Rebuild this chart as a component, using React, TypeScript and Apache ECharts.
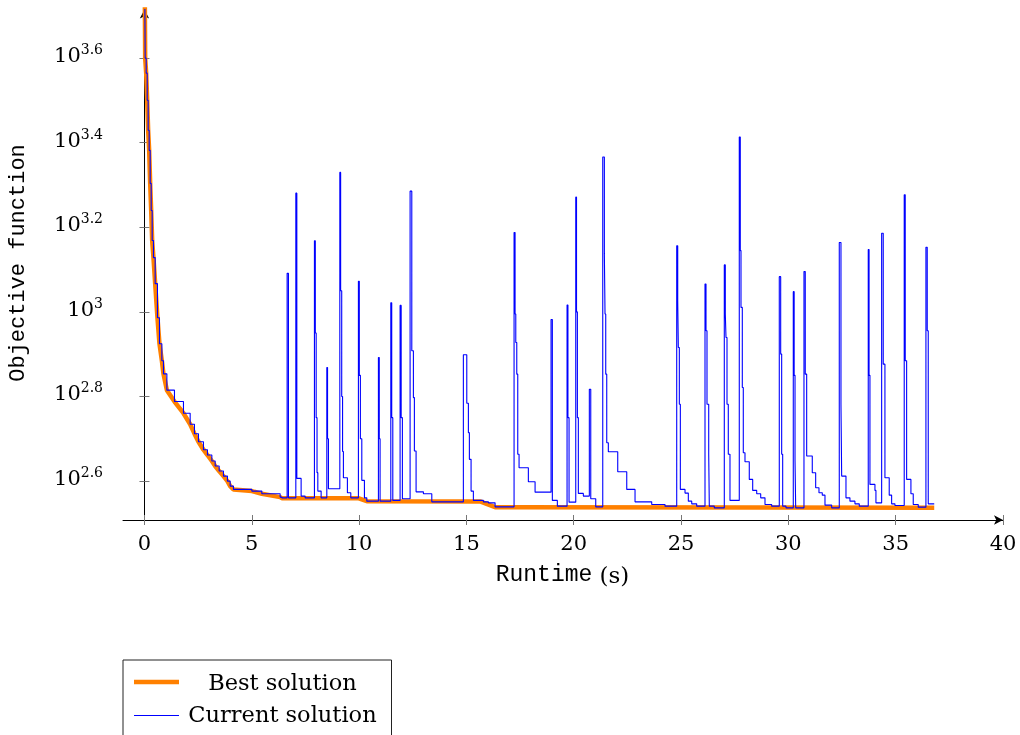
import React, { useEffect, useRef } from "react";
import * as echarts from "echarts";

// x: runtime (s), y: log10(objective function)
const bestSolution: [number, number][] = [
  [0.01, 3.8], [0.033, 3.6], [0.08, 3.5645], [0.127, 3.5005], [0.172, 3.4294], [0.219, 3.382],
  [0.266, 3.3038], [0.313, 3.2398], [0.359, 3.1687], [0.419, 3.1284], [0.499, 3.0668], [0.605, 2.9863],
  [0.699, 2.9246], [0.811, 2.8844], [0.885, 2.8536], [1.044, 2.815], [1.398, 2.788], [1.817, 2.7604],
  [2.129, 2.7344], [2.329, 2.7121], [2.516, 2.6931], [2.748, 2.6742], [2.935, 2.6616], [3.139, 2.6474],
  [3.294, 2.6355], [3.48, 2.6237], [3.68, 2.6118], [3.866, 2.6], [3.993, 2.5882], [4.146, 2.5803],
  [5.003, 2.5763], [5.469, 2.5699], [6.321, 2.5621], [6.4, 2.5597], [9.953, 2.5597], [10.359, 2.5526],
  [15.636, 2.552], [16.335, 2.5384], [36.796, 2.5367],
];

const currentSolution: [number, number][] = [
  [0.01, 3.8], [0.033, 3.6], [0.08, 3.5645], [0.127, 3.5005], [0.172, 3.4294], [0.219, 3.382],
  [0.266, 3.3038], [0.313, 3.2398], [0.359, 3.1687], [0.419, 3.1284], [0.499, 3.0668], [0.605, 2.9863],
  [0.699, 2.9246], [0.811, 2.8844], [0.885, 2.8536], [1.044, 2.815], [1.398, 2.788], [1.817, 2.7604],
  [2.129, 2.7344], [2.329, 2.7121], [2.516, 2.6931], [2.748, 2.6742], [2.935, 2.6616], [3.139, 2.6474],
  [3.294, 2.6355], [3.48, 2.6237], [3.68, 2.6118], [3.866, 2.6], [3.993, 2.5882], [4.146, 2.5803],
  [5.003, 2.5763], [5.469, 2.5699], [6.321, 2.5621], [6.4, 2.5604],
  [6.647, 3.0912], [6.708, 2.5604], [7.052, 3.2808], [7.099, 2.6064], [7.299, 2.5645], [7.485, 2.5604],
  [7.919, 3.168], [7.96, 2.95], [8.0, 2.75], [8.04, 2.62], [8.077, 2.5763], [8.231, 2.5604],
  [8.496, 2.8685], [8.53, 2.7], [8.571, 2.5818],
  [9.102, 3.3299], [9.14, 3.05], [9.19, 2.8], [9.23, 2.67], [9.269, 2.6078], [9.455, 2.5723], [9.613, 2.5604],
  [9.968, 3.0723], [10.01, 2.85], [10.06, 2.7], [10.126, 2.6017], [10.248, 2.5604], [10.359, 2.5526],
  [10.9, 2.8922], [10.94, 2.7], [10.978, 2.5526], [11.477, 3.0218], [11.52, 2.75], [11.57, 2.5543],
  [11.91, 3.0154], [11.96, 2.75], [12.017, 2.5581],
  [12.376, 3.2855], [12.455, 2.908], [12.53, 2.7974], [12.576, 2.6711], [12.655, 2.5746], [12.996, 2.5699],
  [13.387, 2.5509],
  [14.858, 2.8986], [15.017, 2.7841], [15.092, 2.7145], [15.138, 2.6514], [15.217, 2.5763], [15.324, 2.5543],
  [15.79, 2.5509], [16.023, 2.5486], [16.335, 2.5391],
  [17.22, 3.1877], [17.267, 2.995], [17.3, 2.9277], [17.346, 2.8528], [17.392, 2.6633], [17.453, 2.6315],
  [17.886, 2.5983], [18.199, 2.5739],
  [18.943, 2.9822], [19.004, 2.5543], [19.237, 2.5408], [19.689, 3.0164], [19.73, 2.75], [19.782, 2.5502],
  [20.094, 3.2713], [20.13, 3.0], [20.17, 2.75], [20.215, 2.5709], [20.448, 2.5645],
  [20.727, 2.8173], [20.793, 2.5581], [21.025, 2.5391],
  [21.352, 3.3661], [21.427, 3.1372], [21.458, 2.995], [21.491, 2.8528], [21.538, 2.6908], [21.612, 2.6694],
  [22.05, 2.622], [22.47, 2.5803], [22.856, 2.5509], [23.633, 2.5448], [24.253, 2.5408],
  [24.798, 3.1562], [24.845, 3.0265], [24.873, 2.9159], [24.92, 2.7818], [24.967, 2.5803], [25.185, 2.5716],
  [25.339, 2.5526], [25.497, 2.5462], [25.729, 2.5408],
  [26.116, 3.0661], [26.163, 2.9555], [26.209, 2.7818], [26.289, 2.6633], [26.316, 2.5408], [26.55, 2.5367],
  [27.015, 3.1111], [27.062, 2.995], [27.094, 2.9396], [27.141, 2.7818], [27.201, 2.6633], [27.28, 2.5543],
  [27.713, 3.4135], [27.76, 3.145], [27.793, 3.0107], [27.854, 2.8211], [27.9, 2.6671], [27.979, 2.6457],
  [28.179, 2.604], [28.338, 2.578], [28.525, 2.5699], [28.711, 2.5604], [28.911, 2.5448], [29.222, 2.5408],
  [29.577, 3.0834], [29.642, 2.9002], [29.688, 2.6633], [29.735, 2.5408], [29.889, 2.5367],
  [30.229, 3.0479], [30.27, 2.85], [30.31, 2.65], [30.341, 2.5367],
  [30.727, 3.0953], [30.787, 2.8528], [30.853, 2.6592], [31.114, 2.6197], [31.272, 2.5841], [31.426, 2.5723],
  [31.58, 2.5668], [31.706, 2.5431], [32.018, 2.5367],
  [32.372, 3.164], [32.451, 2.7818], [32.483, 2.6118], [32.684, 2.5604], [32.869, 2.5526], [33.102, 2.5462],
  [33.303, 2.5408],
  [33.722, 3.1474], [33.76, 2.85], [33.801, 2.5922], [34.034, 2.578], [34.08, 2.5486],
  [34.346, 3.186], [34.42, 2.8765], [34.499, 2.6078], [34.699, 2.5668], [34.811, 2.5462], [34.965, 2.5424],
  [35.398, 3.277], [35.445, 2.8844], [35.51, 2.604], [35.71, 2.5699], [35.818, 2.5448], [36.051, 2.5384],
  [36.409, 3.1529], [36.47, 2.9555], [36.517, 2.5462], [36.796, 2.5462],
];

const xTickValues = [0, 5, 10, 15, 20, 25, 30, 35, 40];
const yTickExponents = [2.6, 2.8, 3, 3.2, 3.4, 3.6];

const SERIF = "'DejaVu Serif', serif";
const MONO = "'Liberation Mono', monospace";

export default function App() {
  const ref = useRef<HTMLDivElement>(null);

  useEffect(() => {
    if (!ref.current) return;
    const chart = echarts.init(ref.current, undefined, { renderer: "svg" });

    const xBase = {
      type: "value",
      min: -1,
      max: 40,
      position: "bottom",
      splitLine: { show: false },
    };
    const yBase = {
      type: "value",
      min: 2.508,
      max: 3.715,
      position: "left",
      splitLine: { show: false },
    };
    const tickStyle = { color: "#777", width: 1 };

    const centered = {
      textAlign: "center",
      textVerticalAlign: "middle",
      align: "center",
      verticalAlign: "middle",
    };

    chart.setOption({
      animation: false,
      grid: { left: 123, right: 17, top: 9.5, bottom: 215, containLabel: false },
      xAxis: [
        {
          ...xBase,
          axisLine: {
            show: true,
            lineStyle: { color: "#000", width: 1 },
            symbol: ["none", "arrow"],
            symbolSize: [7, 9],
          },
          axisTick: { show: true, inside: false, length: 5, customValues: xTickValues, lineStyle: tickStyle },
          axisLabel: {
            customValues: xTickValues,
            fontFamily: SERIF,
            fontSize: 21,
            color: "#000",
            margin: 12,
            formatter: (v: number) => String(Math.round(v)),
          },
        },
        {
          ...xBase,
          axisLine: { show: false },
          axisTick: { show: true, inside: true, length: 5, customValues: xTickValues, lineStyle: tickStyle },
          axisLabel: { show: false },
        },
      ],
      yAxis: [
        {
          ...yBase,
          axisLine: {
            show: true,
            lineStyle: { color: "#000", width: 1 },
            symbol: ["none", "arrow"],
            symbolSize: [7, 9],
          },
          axisTick: { show: true, inside: false, length: 5, customValues: yTickExponents, lineStyle: tickStyle },
          axisLabel: {
            customValues: yTickExponents,
            margin: 20,
            padding: [0, 0, 6, 0],
            formatter: (v: number) => `{b|10}{s|${String(Math.round(v * 10) / 10)}}`,
            rich: {
              b: { fontFamily: SERIF, fontSize: 21, color: "#000", lineHeight: 26 },
              s: { fontFamily: SERIF, fontSize: 14, color: "#000", lineHeight: 14, verticalAlign: "top" },
            },
          },
        },
        {
          ...yBase,
          axisLine: { show: false },
          axisTick: { show: true, inside: true, length: 5, customValues: yTickExponents, lineStyle: tickStyle },
          axisLabel: { show: false },
        },
      ],
      series: [
        {
          name: "Best solution",
          type: "line",
          data: bestSolution,
          showSymbol: false,
          symbol: "none",
          lineStyle: { color: "#ff8000", width: 4.5 },
          z: 2,
        },
        {
          name: "Current solution",
          type: "line",
          step: "end",
          data: currentSolution,
          showSymbol: false,
          symbol: "none",
          lineStyle: { color: "#0000ff", width: 1.1 },
          z: 3,
        },
      ],
      graphic: [
        {
          type: "text",
          x: 18,
          y: 263,
          rotation: Math.PI / 2,
          style: {
            text: "Objective function",
            fontFamily: MONO,
            fontSize: 22,
            fill: "#000",
            ...centered,
          },
        },
        {
          type: "text",
          x: 562.5,
          y: 575,
          style: {
            text: "{a|Runtime}{b| (s)}",
            rich: {
              a: { fontFamily: MONO, fontSize: 23, fill: "#000", color: "#000" },
              b: { fontFamily: SERIF, fontSize: 23, fill: "#000", color: "#000" },
            },
            fill: "#000",
            ...centered,
          },
        },
        {
          type: "rect",
          shape: { x: 123, y: 660, width: 268.5, height: 110 },
          style: { fill: "#fff", stroke: "#222", lineWidth: 1 },
          z: 10,
        },
        {
          type: "line",
          shape: { x1: 134, y1: 682, x2: 179, y2: 682 },
          style: { stroke: "#ff8000", lineWidth: 4.5 },
          z: 11,
        },
        {
          type: "line",
          shape: { x1: 134, y1: 715.5, x2: 179, y2: 715.5 },
          style: { stroke: "#0000ff", lineWidth: 1 },
          z: 11,
        },
        {
          type: "text",
          x: 282.5,
          y: 682,
          z: 11,
          style: {
            text: "Best solution",
            fontFamily: SERIF,
            fontSize: 22.5,
            fill: "#000",
            ...centered,
          },
        },
        {
          type: "text",
          x: 282.5,
          y: 714,
          z: 11,
          style: {
            text: "Current solution",
            fontFamily: SERIF,
            fontSize: 22.5,
            fill: "#000",
            ...centered,
          },
        },
      ],
    });

    return () => chart.dispose();
  }, []);

  return (
    <div
      ref={ref}
      style={{ position: "fixed", left: 0, top: 0, width: 1020, height: 735 }}
    />
  );
}
